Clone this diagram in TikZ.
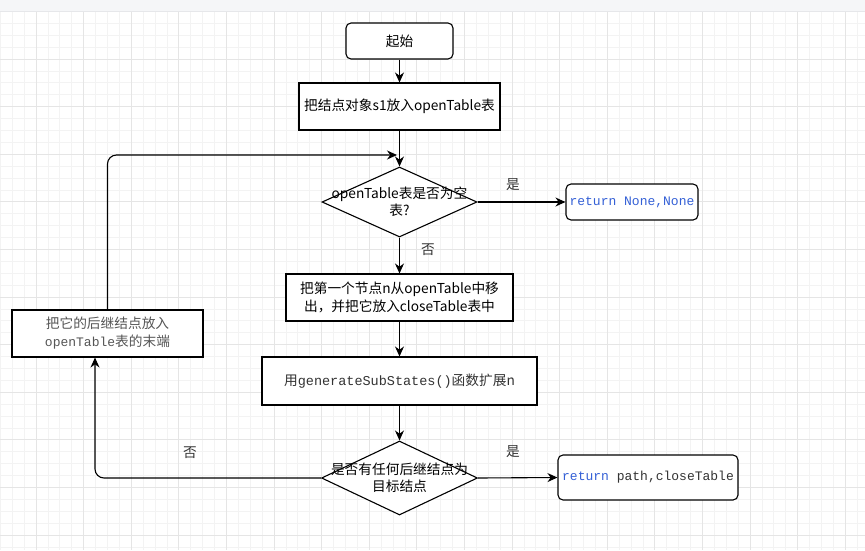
\documentclass[tikz,border=0pt]{standalone}
\usepackage{fontspec}
\setmainfont{Noto Sans CJK SC}
\newfontfamily\cjk{Noto Sans CJK SC}
\setmonofont{Liberation Mono}
\usetikzlibrary{shapes.geometric,arrows.meta}
\definecolor{gridminor}{HTML}{F3F3F3}
\definecolor{gridmajor}{HTML}{E5E5E5}
\definecolor{topbar}{HTML}{F5F6F8}
\definecolor{topline}{HTML}{E6E7EA}
\definecolor{codeblue}{RGB}{52,96,214}
\definecolor{txtgray}{HTML}{555555}
\definecolor{txtdark}{HTML}{333333}
\tikzset{
  every node/.style={font=\fontsize{13.7}{18}\selectfont},
  stepbox/.style={draw=black, line width=1.1pt, fill=white, inner sep=0pt, align=center},
  roundbox/.style={stepbox, rounded corners=5pt},
  decision/.style={draw=black, line width=1.1pt, fill=white, diamond, inner sep=0pt, minimum width=#1, minimum height=72pt, aspect=2.15},
  conn/.style={line width=1.1pt, -{Stealth[length=10pt,width=9pt]}},
  lbl/.style={font=\fontsize{13.7}{18}\selectfont, text=txtdark},
  mono/.style={font=\fontsize{13}{17}\ttfamily}
}
\begin{document}
\begin{tikzpicture}[x=1pt,y=-1pt]
\useasboundingbox (0,0) rectangle (865,550);
\fill[white] (0,0) rectangle (865,550);
% grid
\foreach \i in {0,...,73} \draw[gridminor, line width=0.8pt] ({0.3+\i*11.9},11.4) -- ({0.3+\i*11.9},550);
\foreach \j in {0,...,45} \draw[gridminor, line width=0.8pt] (0,{11.4+\j*11.9}) -- (865,{11.4+\j*11.9});
\foreach \k in {0,...,17} \draw[gridmajor, line width=0.9pt] ({36+\k*47.6},11.4) -- ({36+\k*47.6},550);
\foreach \k in {1,...,11} \draw[gridmajor, line width=0.9pt] (0,{11.4+\k*47.6}) -- (865,{11.4+\k*47.6});
\fill[topbar] (0,0) rectangle (865,11);
\draw[topline, line width=0.8pt] (0,11) -- (865,11);

% nodes
\node[roundbox, minimum width=107pt, minimum height=36pt] (start) at (399.5,41) {起始};
\node[stepbox, minimum width=201pt, minimum height=47pt] (b1) at (399.5,106.5) {把结点对象s1放入openTable表};
\node[decision=155pt, minimum height=70pt, label={[align=center, font=\fontsize{13.7}{17}\selectfont]center:openTable表是否为空\\表?}] (d1) at (399.5,202) {};
\node[roundbox, minimum width=132pt, minimum height=36pt, mono, text=codeblue] (rn) at (632,202) {return None,None};
\node[stepbox, minimum width=227pt, minimum height=47pt] (b3) at (399.5,297.5) {把第一个节点n从openTable中移\\出，并把它放入closeTable表中};
\node[stepbox, minimum width=275pt, minimum height=48pt, text=txtdark] (b4) at (399.5,381) {用{\fontsize{13.5}{17}\ttfamily generateSubStates()}函数扩展n};
\node[decision=156pt, minimum height=74pt, label={[align=center, font=\fontsize{13.7}{17}\selectfont]center:是否有任何后继结点为\\目标结点}] (d2) at (399.5,478) {};
\node[roundbox, minimum width=180pt, minimum height=45pt, mono, text=txtdark] (rp) at (648,477.5) {\textcolor{codeblue}{return} path,closeTable};
\node[stepbox, minimum width=191pt, minimum height=47pt, text=txtgray] (lb) at (107.5,333.5) {把它的后继结点放入\\{\fontsize{13}{17}\ttfamily openTable}表的末端};

% labels
\node[lbl] (yes1) at (513,185) {是};
\node[lbl] (no1) at (428,250) {否};
\node[lbl] (yes2) at (513,452) {是};
\node[lbl] (no2) at (190,453) {否};

% connectors
\coordinate (join) at (397,155);
\draw[conn] (start) -- (b1);
\draw[conn] (b1) -- (d1.north);
\draw[conn] (d1.east) -- (rn.west);
\draw[conn] (d1.south) -- (b3.north);
\draw[conn] (b3) -- (b4);
\draw[conn] (b4) -- (d2.north);
\draw[conn] (d2.east) -- (rp.west);
\draw[conn, rounded corners=9pt] (d2.west) -| ([xshift=-12.5pt]lb.south);
\draw[conn, rounded corners=9pt] (lb.north) |- (join);
\end{tikzpicture}
\end{document}
